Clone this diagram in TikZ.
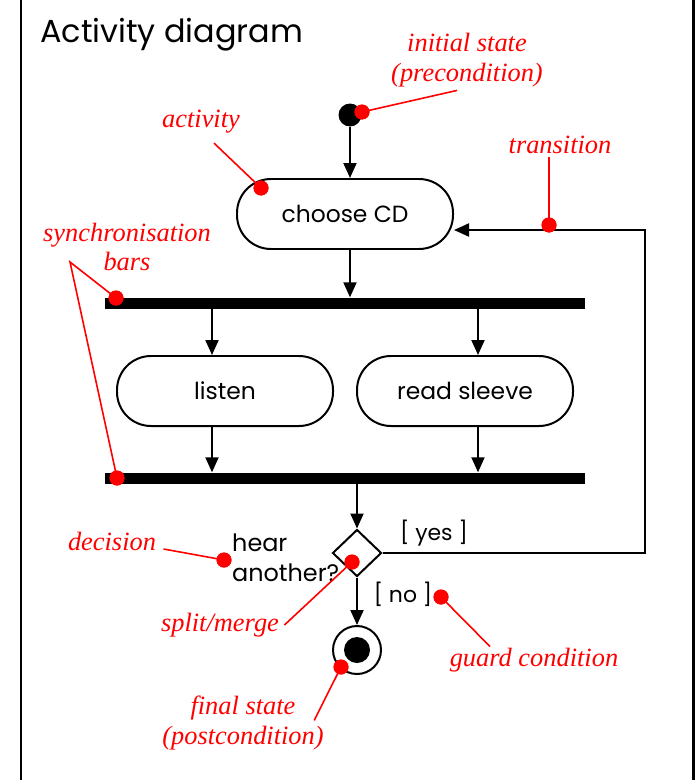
\documentclass[tikz,border=0pt]{standalone}
\usepackage{fontspec}
\setmainfont{Liberation Serif}
\newfontfamily\diagfont{Poppins}
\usetikzlibrary{arrows.meta,positioning,shapes.geometric}
\definecolor{notered}{RGB}{255,0,0}

\begin{document}
\begin{tikzpicture}[x=1bp, y=-1bp,
    activity/.style={rectangle, rounded corners=34bp, draw, line width=2pt, minimum width=216bp, minimum height=70bp, font=\diagfont\fontsize{23.5}{28}\selectfont},
    syncbar/.style={rectangle, fill=black, inner sep=0pt, minimum width=480bp, minimum height=11bp},
    flow/.style={-{Triangle[length=15bp,width=13bp]}, line width=2pt},
    note/.style={font=\itshape\fontsize{26.5}{30}\selectfont, text=notered, align=center},
    pointer/.style={notered, line width=1.6pt},
    pin/.style={circle, fill=notered, inner sep=0pt, minimum size=15bp},
    plain/.style={font=\diagfont\fontsize{22}{30}\selectfont, inner sep=0pt}
]
\useasboundingbox (0,0) rectangle (697,780);

% Frame
\draw[line width=3pt] (21,0) -- (21,780);
\draw[line width=3pt] (693,0) -- (693,780);
\node[font=\diagfont\fontsize{32}{36}\selectfont, anchor=base west, inner sep=0pt] (title) at (40,43) {Activity diagram};

% Diagram
\node[circle, fill, inner sep=0pt, minimum size=23bp] (start) at (350,115) {};
\node[activity] (choose) at (345,214) {choose CD};
\node[syncbar] (fork) at (345,303) {};
\node[activity] (listen) at (225,391) {listen};
\node[activity] (read) at (465,391) {read sleeve};
\node[syncbar] (join) at (345,478) {};
\node[diamond, draw, line width=2pt, inner sep=0pt, minimum width=49bp, minimum height=47bp] (decide) at (357,553) {};
\node[circle, draw, line width=2pt, inner sep=0pt, minimum size=48bp] (final) at (357,650) {};
\node[circle, fill, inner sep=0pt, minimum size=26bp] (finaldot) at (final) {};

\node[plain, anchor=west, align=left, font=\diagfont\fontsize{24}{30}\selectfont] (question) at (232,558) {hear\\another?};
\node[plain] (yes) at (434,533) {[ yes ]};
\node[plain] (no) at (403,594) {[ no ]};

\draw[flow] (start) -- (start |- choose.north);
\draw[flow] (start |- choose.south) -- (start |- fork.north);
\draw[flow] ([xshift=-13bp]listen.north |- fork.south) -- ([xshift=-13bp]listen.north);
\draw[flow] ([xshift=13bp]read.north |- fork.south) -- ([xshift=13bp]read.north);
\draw[flow] ([xshift=-13bp]listen.south) -- ([xshift=-13bp]listen.south |- join.north);
\draw[flow] ([xshift=13bp]read.south) -- ([xshift=13bp]read.south |- join.north);
\draw[flow] (decide |- join.south) -- (decide.north);
\draw[flow] (decide.south) -- (final.north);
\coordinate (loopcorner) at (645,230);
\draw[flow] (decide.east) -| (loopcorner) -- (choose.east |- loopcorner);

% Annotations
\node[note] (initnote) at (467,60) {initial state\\(precondition)};
\node[note] (actnote) at (201,122) {activity};
\node[note] (transnote) at (560,145) {transition};
\node[note] (syncnote) at (127,247) {synchronisation\\bars};
\node[note] (decnote) at (112,541) {decision};
\node[note] (splitnote) at (220,625) {split/merge};
\node[note] (guardnote) at (534,660) {guard condition};
\node[note] (finalnote) at (243,723) {final state\\(postcondition)};

\node[pin] (pininit) at (362,112) {};
\node[pin] (pinact) at (261,188) {};
\node[pin] (pintrans) at (549,225) {};
\node[pin] (pinfork) at (116,298) {};
\node[pin] (pinjoin) at (117,478) {};
\node[pin] (pindec) at (224,560) {};
\node[pin] (pinsplit) at (352,562) {};
\node[pin] (pinguard) at (441,597) {};
\node[pin] (pinfinal) at (341,667) {};
\coordinate (syncfoot) at (70,262);

\draw[pointer] (pininit.center) -- ([xshift=-10bp]initnote.south);
\draw[pointer] (pinact.center) -- ([xshift=13bp,yshift=-6bp]actnote.south);
\draw[pointer] (pintrans.center) -- (pintrans |- transnote.south);
\draw[pointer] (pinfork.center) -- (syncfoot) -- (pinjoin.center);
\draw[pointer] (pindec.center) -- ([yshift=-8bp,xshift=4bp]decnote.east);
\draw[pointer] (pinsplit.center) -- ([xshift=2bp]splitnote.east);
\draw[pointer] (pinguard.center) -- ([xshift=-44bp,yshift=-2bp]guardnote.north);
\draw[pointer] (pinfinal.center) -- ([xshift=-13bp,yshift=-28bp]finalnote.north east);
\foreach \p in {pininit,pinact,pintrans,pinfork,pinjoin,pindec,pinsplit,pinguard,pinfinal}
    \fill[notered] (\p) circle (7.5bp);
\end{tikzpicture}
\end{document}
